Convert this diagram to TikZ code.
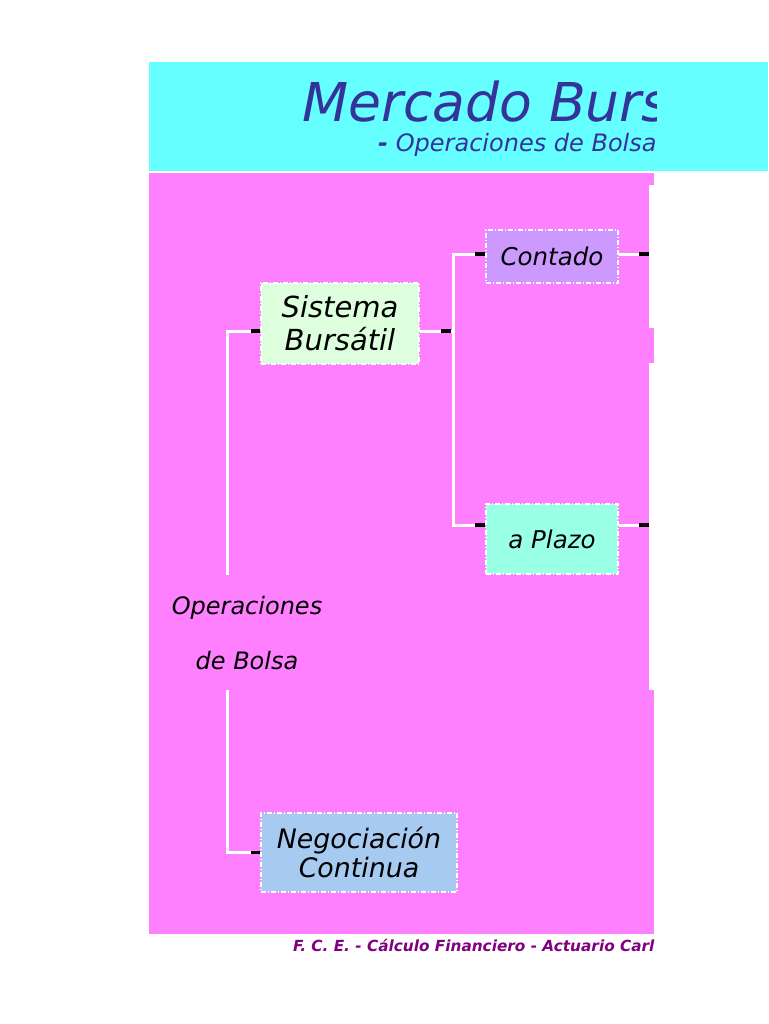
\documentclass[tikz,border=0pt]{standalone}
\usepackage{fontspec}
\setmainfont{DejaVu Sans}[ItalicFont={DejaVu Sans Oblique},BoldFont={DejaVu Sans Bold},BoldItalicFont={DejaVu Sans Bold Oblique}]
\usetikzlibrary{calc}
\definecolor{cyanbg}{HTML}{66FFFF}
\definecolor{magbg}{HTML}{FF80FF}
\definecolor{titleblue}{HTML}{333399}
\definecolor{footpurple}{HTML}{800080}
\definecolor{sisfill}{HTML}{DDFFDD}
\definecolor{confill}{HTML}{CC99FF}
\definecolor{plafill}{HTML}{99FFE5}
\definecolor{negfill}{HTML}{A6CAF0}
\tikzset{
  box/.style={draw=white, line width=1.2pt, dash pattern=on 5pt off 2pt on 1pt off 2pt,
    inner sep=0pt, align=center},
  wire/.style={draw=white, line width=3pt},
  stub/.style={draw=black, line width=3.2pt},
}
\begin{document}
\begin{tikzpicture}[x=1pt,y=-1pt]
\useasboundingbox (0,0) rectangle (768,1024);
\fill[white] (0,0) rectangle (768,1024);
% backgrounds
\fill[cyanbg] (149,62) rectangle (768,171.5);
\fill[magbg] (149,173) rectangle (654,934);
\fill[white] (649,185) rectangle (655,328);
\fill[white] (649,363) rectangle (655,690);
% title
\begin{scope}
\clip (149,62) rectangle (656,172);
\node[anchor=base west, inner sep=0pt, text=titleblue, font=\fontsize{53.5}{60}\selectfont\itshape] (title) at (302,122) {Mercado Burs};
\node[anchor=base west, inner sep=0pt, text=titleblue, font=\fontsize{24}{28}\selectfont\itshape] (subtitle) at (378,152) {\textbf{-} Operaciones de Bolsa};
\end{scope}
% nodes
\node[box, fill=sisfill, minimum width=158pt, minimum height=81pt, font=\fontsize{29}{33}\selectfont\itshape] (sis) at (340,323.5) {Sistema\\Bursátil};
\node[box, fill=confill, minimum width=132pt, minimum height=53pt, font=\fontsize{24.5}{29}\selectfont\itshape] (con) at (552,256.5) {Contado};
\node[box, fill=plafill, minimum width=132pt, minimum height=70pt, font=\fontsize{24.5}{29}\selectfont\itshape] (pla) at (552,539) {a Plazo};
\node[box, fill=negfill, minimum width=196pt, minimum height=79pt, font=\fontsize{26.8}{29}\selectfont\itshape] (neg) at (359,852.5) {Negociación\\Continua};
\node[inner sep=0pt, align=center, font=\fontsize{24}{55}\selectfont\itshape] (ops) at (247,633) {Operaciones\\de Bolsa};
% free ends
\coordinate (lt) at (227,575);
\coordinate (lb) at (227,690);
\coordinate (cr) at (649,254);
\coordinate (pr) at (649,525);
% connectors
\draw[wire] (lt) |- ([yshift=-7.5pt]sis.west);
\draw[wire] (lb) |- (neg.west);
\draw[wire] ([yshift=-7.5pt]sis.east) -- ++(34,0) coordinate (sp);
\draw[wire] ([yshift=2.5pt]con.west) -| (sp) |- ([yshift=14pt]pla.west);
\draw[wire] ([yshift=2.5pt]con.east) -- (cr);
\draw[wire] ([yshift=14pt]pla.east) -- (pr);
% black stubs
\draw[stub] ([yshift=-7.5pt]sis.west) -- ++(-9,0);
\draw[stub] (neg.west) -- ++(-9,0);
\draw[stub] ($(sp)+(-3,0)$) -- ++(-10,0);
\draw[stub] ([yshift=2.5pt]con.west) -- ++(-10,0);
\draw[stub] ([yshift=14pt]pla.west) -- ++(-10,0);
\draw[stub] (cr) -- ++(-10,0);
\draw[stub] (pr) -- ++(-10,0);
% footer
\node[anchor=base west, inner sep=0pt, text=footpurple, font=\fontsize{15.3}{18}\selectfont\bfseries\itshape] (foot) at (293,951) {F. C. E. - Cálculo Financiero - Actuario Carl};
\end{tikzpicture}
\end{document}
